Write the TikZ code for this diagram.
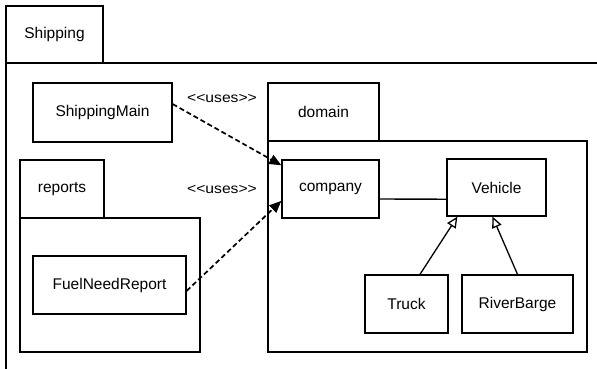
\documentclass[tikz,border=0pt]{standalone}
\usepackage{fontspec}
\setmainfont{Liberation Sans}
\usetikzlibrary{arrows.meta,calc}
\tikzset{
  box/.style={draw, line width=1.3pt, inner sep=0pt, font=\fontsize{15.5}{17}\selectfont},
  lbl/.style={inner sep=0pt, font=\fontsize{14}{16}\selectfont},
  dep/.style={draw, dashed, line width=1.7pt, dash pattern=on 5pt off 3pt, -{Triangle[length=12pt,width=10pt]}},
  gen/.style={draw, line width=1.3pt, -{Triangle[open,length=11pt,width=10pt,line width=1.3pt]}},
  assoc/.style={draw, line width=1.3pt}
}
\newcommand{\bx}[6]{\node[box, minimum width={#4-#2}, minimum height={#5-#3}] (#1) at ({(#2+#4)/2},{(#3+#5)/2}) {#6};}
\newcommand{\usestext}{\scalebox{1.12}[1]{<\kern0pt<uses>\kern0pt>}}
\begin{document}
\begin{tikzpicture}[x=1pt,y=-1pt]
\useasboundingbox (0,0) rectangle (597,369);
% Shipping package
\bx{shiptab}{6}{6}{103}{63}{Shipping}
\coordinate (shipTR) at (597,63);
\coordinate (shipBL) at (6,369);
\draw[line width=1.3pt] (shipBL) |- (shipTR);
% reports package
\bx{reptab}{20}{160}{104}{218}{reports}
\bx{repbody}{20}{218}{200}{352}{}
% domain package
\bx{domtab}{268}{83}{379}{141}{domain}
\bx{dombody}{268}{141}{587}{352}{}
% classes
\bx{main}{33}{83}{172}{142}{ShippingMain}
\bx{fuel}{33}{256}{186}{314}{FuelNeedReport}
\bx{company}{282}{160}{379}{218}{company}
\bx{vehicle}{447}{159}{546}{216}{Vehicle}
\bx{truck}{365}{275}{448}{333}{Truck}
\bx{barge}{462}{275}{573}{333}{RiverBarge}
% labels
\node[lbl] (uses1) at (222,98) {\usestext};
\node[lbl] (uses2) at (222,189) {\usestext};
% connectors
\draw[dep] ($(main.north east)!0.36!(main.south east)$) -- ($(company.north west)!0.1!(company.south west)$);
\draw[dep] ($(fuel.north east)!0.6!(fuel.south east)$) -- ($(company.north west)!0.7!(company.south west)$);
\draw[assoc] ($(company.north east)!0.67!(company.south east)$) -- ($(vehicle.north west)!0.7!(vehicle.south west)$);
\draw[gen] ($(truck.north west)!0.66!(truck.north east)$) -- ($(vehicle.south west)!0.11!(vehicle.south east)$);
\draw[gen] ($(barge.north west)!0.5!(barge.north east)$) -- ($(vehicle.south west)!0.46!(vehicle.south east)$);
\end{tikzpicture}
\end{document}
